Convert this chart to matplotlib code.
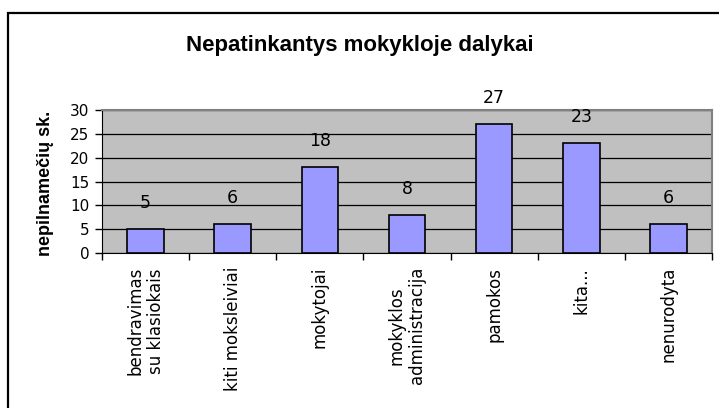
import matplotlib.pyplot as plt
import numpy as np
from matplotlib.patches import Rectangle

categories = ["bendravimas\nsu klasiokais", "kiti moksleiviai", "mokytojai",
              "mokyklos\nadministracija", "pamokos", "kita...", "nenurodyta"]
values = [5, 6, 18, 8, 27, 23, 6]
y_ticks = [0, 5, 10, 15, 20, 25, 30]

fig = plt.figure(figsize=(7.19, 4.08), dpi=100)
fig.patch.set_facecolor("white")

# outer chart frame (runs off the right and bottom edges)
frame = Rectangle((8 / 719, -0.2), 1.0, 1.2 - 13 / 408, transform=fig.transFigure,
                  fill=False, edgecolor="black", linewidth=1.6)
fig.patches.append(frame)

ax = fig.add_axes([102 / 719, 155 / 408, 610 / 719, 143 / 408])
ax.set_facecolor("#C0C0C0")

x = np.arange(len(categories))
bars = ax.bar(x, values, width=0.42, color="#9999FF", edgecolor="black",
              linewidth=1.2, zorder=3)

for xi, v in zip(x, values):
    ax.annotate(str(v), (xi, v), xytext=(0, 18.7), textcoords="offset points",
                ha="center", va="center", fontsize=12.5, family="DejaVu Sans",
                annotation_clip=False)

ax.set_xlim(-0.5, len(categories) - 0.5)
ax.set_ylim(0, 30)
ax.set_yticks(y_ticks)
ax.set_yticklabels([str(t) for t in y_ticks], family="DejaVu Sans", fontsize=11)
ax.yaxis.grid(True, color="black", linewidth=0.9, zorder=1)
ax.set_axisbelow(True)

ax.set_xticks(x)
ax.set_xticklabels(categories, rotation=90, ha="center", va="top",
                   family="DejaVu Sans", fontsize=12, linespacing=1.15)
ax.set_xticks(np.arange(-0.5, len(categories), 1), minor=True)
ax.tick_params(axis="x", which="major", length=0, pad=10)
ax.tick_params(axis="x", which="minor", length=5, width=1, color="black")
ax.tick_params(axis="y", length=5, width=1, pad=4)

ax.spines["top"].set_color("#808080")
ax.spines["right"].set_color("#808080")
ax.spines["top"].set_linewidth(1.5)
ax.spines["right"].set_linewidth(1.5)
ax.spines["left"].set_color("black")
ax.spines["bottom"].set_color("black")

fig.text(46 / 719, 1 - 183 / 408, "nepilnamečių sk.", rotation=90, ha="center",
         va="center", fontsize=13, fontweight="bold", family="Liberation Sans")
fig.text(360 / 719, 1 - 45 / 408, "Nepatinkantys mokykloje dalykai", ha="center",
         va="center", fontsize=16, fontweight="bold", family="Liberation Sans")

plt.savefig("out.png", dpi=100)
